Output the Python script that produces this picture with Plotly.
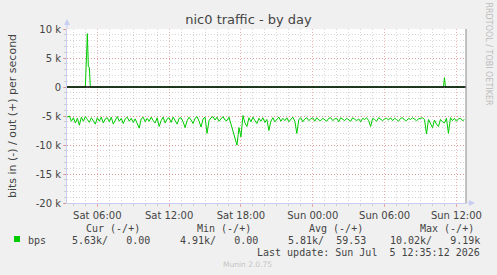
import pandas as pd
import plotly.graph_objects as go

# ---------------- data ----------------
in_start = "2026-07-04 03:30"
in_step = "10min"
bps_in_k = [
    -5.2, -5.0, -5.9, -5.3, -6.2, -5.4, -6.6, -5.2, -5.9, -5.1,
    -5.6, -6.1, -5.3, -5.8, -6.4, -5.3, -5.9, -5.2, -6.2, -5.5,
    -5.3, -6.0, -5.2, -6.4, -5.6, -5.1, -5.9, -5.4, -6.3, -5.5,
    -5.2, -5.9, -5.4, -6.1, -5.5, -6.2, -7.1, -5.5, -5.2, -6.0,
    -5.4, -5.9, -5.2, -5.8, -6.2, -5.3, -6.8, -5.8, -5.2, -6.2,
    -5.5, -5.3, -6.1, -5.2, -5.9, -6.4, -5.4, -5.3, -6.0, -7.0,
    -5.8, -5.2, -5.7, -6.3, -5.4, -5.1, -5.9, -6.9, -5.5, -5.2,
    -8.0, -5.8, -5.3, -5.1, -5.7, -5.2, -5.9, -5.4, -5.1, -5.7,
    -5.8, -5.2, -6.4, -7.4, -9.0, -10.02, -7.0, -8.6, -4.91, -6.2,
    -6.8, -5.3, -6.0, -5.2, -5.8, -6.3, -5.4, -5.9, -5.3, -6.1,
    -5.6, -7.5, -5.9, -5.3, -6.0, -5.5, -5.2, -5.9, -5.4, -5.8,
    -5.3, -6.0, -5.5, -5.2, -5.9, -8.0, -5.6, -5.3, -6.0, -5.5,
    -5.3, -5.8, -5.5, -5.3, -5.9, -5.3, -5.7, -5.8, -5.4, -5.6,
    -5.9, -5.4, -5.3, -5.8, -5.5, -5.4, -6.0, -5.3, -5.6, -5.8,
    -5.4, -5.6, -5.9, -5.3, -5.5, -5.8, -5.5, -6.0, -5.4, -5.6,
    -5.3, -5.8, -6.8, -5.4, -5.6, -5.9, -5.3, -5.5, -5.8, -5.5,
    -5.4, -5.7, -5.3, -5.8, -5.4, -5.6, -5.9, -5.4, -5.3, -5.7,
    -5.8, -5.4, -5.6, -5.3, -5.5, -5.8, -5.5, -5.4, -5.3, -5.6,
    -8.1, -5.6, -6.3, -7.0, -5.7, -6.4, -6.8, -5.6, -6.0, -6.2,
    -5.4, -8.0, -5.3, -5.8, -5.4, -5.9, -5.5, -5.4, -5.8, -5.63,
]
out_times = ["2026-07-04 03:30", "2026-07-04 05:00", "2026-07-04 05:10",
             "2026-07-04 05:15", "2026-07-04 05:20", "2026-07-04 05:25",
             "2026-07-05 10:55", "2026-07-05 11:00", "2026-07-05 11:05",
             "2026-07-05 12:40"]
bps_out = [0, 0, 9190, 3500, 3400, 0, 0, 1600, 0, 0]

y_tickvals = [10000, 5000, 0, -5000, -10000, -15000, -20000]
y_ticktext = ["10 k", "5 k", "0", "-5 k", "-10 k", "-15 k", "-20 k"]

legend_headers = ["Cur (-/+)", "Min (-/+)", "Avg (-/+)", "Max (-/+)"]
legend_values = ["5.63k/   0.00", "4.91k/   0.00", "5.81k/  59.53", "10.02k/   9.19k"]
last_update = "Last update: Sun Jul  5 12:35:12 2026"

# ---------------- geometry ----------------
W, H = 497, 275
L, R, T, B = 67, 466, 29, 203
PW, PH = R - L, B - T


def px(x):
    return (x - L) / PW


def py(y):
    return (B - y) / PH


in_times = pd.date_range(in_start, periods=len(bps_in_k), freq=in_step)
bps_in = [v * 1000 for v in bps_in_k]

GREEN = "#00cc00"
TXT = "#444444"

fig = go.Figure()
fig.add_trace(go.Scatter(x=in_times, y=bps_in, mode="lines",
                         line=dict(color=GREEN, width=1), showlegend=False,
                         hoverinfo="skip"))
fig.add_trace(go.Scatter(x=pd.to_datetime(out_times), y=bps_out, mode="lines",
                         line=dict(color=GREEN, width=1), showlegend=False,
                         hoverinfo="skip"))

MAJ = "rgba(225,80,80,0.45)"
MIN = "rgba(150,150,150,0.38)"

fig.update_layout(
    width=W, height=H,
    margin=dict(l=L, r=W - R, t=T, b=H - B, pad=0),
    paper_bgcolor="#f0f0f0", plot_bgcolor="#ffffff",
    font=dict(family="DejaVu Sans", size=10, color=TXT),
    title=dict(text="nic0 traffic - by day", x=0.5, xanchor="center",
               y=1 - 19.5 / H, yanchor="middle",
               font=dict(family="DejaVu Sans", size=13, color=TXT)),
    showlegend=False,
)

fig.update_xaxes(
    type="date",
    range=["2026-07-04 03:28", "2026-07-05 12:48"],
    tick0="2026-07-04 00:00", dtick=6 * 3600 * 1000,
    tickformat="%a %H:%M",
    ticks="outside", ticklen=3, tickcolor=MAJ, tickwidth=1,
    showgrid=True, gridcolor=MAJ, griddash="1px,2px", gridwidth=1,
    minor=dict(dtick=3600 * 1000, showgrid=True, gridcolor=MIN,
               griddash="1px,2px", ticks="outside", ticklen=2, tickcolor=MIN),
    showline=True, linecolor="#c8cdf2", linewidth=1,
    zeroline=False,
    tickfont=dict(size=10, color=TXT),
    fixedrange=True,
)
fig.update_yaxes(
    range=[-20000, 10000],
    tickvals=y_tickvals, ticktext=y_ticktext,
    ticks="outside", ticklen=3, tickcolor=MAJ,
    showgrid=True, gridcolor=MAJ, griddash="1px,2px", gridwidth=1,
    minor=dict(dtick=1000, tick0=0, showgrid=True, gridcolor=MIN,
               griddash="1px,2px", ticks="outside", ticklen=2, tickcolor=MIN),
    showline=True, linecolor="#c8cdf2", linewidth=1,
    zeroline=False,
    title=dict(text="bits in (-) / out (+) per second", standoff=16,
               font=dict(size=11, color=TXT)),
    tickfont=dict(size=10, color=TXT),
    fixedrange=True,
)

shapes = []
# zero rule drawn above the data, as in rrdtool
shapes.append(dict(type="line", xref="paper", yref="y", layer="above",
                   x0=0, x1=1, y0=0, y1=0,
                   line=dict(color="#000000", width=1.6)))
# right frame line
shapes.append(dict(type="line", xref="paper", yref="paper",
                   x0=px(R), x1=px(R), y0=py(B), y1=py(T),
                   line=dict(color="#8a8a8a", width=1)))
# axis arrows
AX = "#c8cdf2"
shapes.append(dict(type="line", xref="paper", yref="paper",
                   x0=px(L), x1=px(L), y0=py(T), y1=py(24),
                   line=dict(color=AX, width=1)))
shapes.append(dict(type="path", xref="paper", yref="paper",
                   path=f"M {px(L-3)} {py(25)} L {px(L+3)} {py(25)} L {px(L)} {py(19)} Z",
                   fillcolor=AX, line=dict(color=AX, width=0)))
shapes.append(dict(type="line", xref="paper", yref="paper",
                   x0=px(R), x1=px(470), y0=py(B), y1=py(B),
                   line=dict(color=AX, width=1)))
shapes.append(dict(type="path", xref="paper", yref="paper",
                   path=f"M {px(469)} {py(B-3)} L {px(469)} {py(B+3)} L {px(475)} {py(B)} Z",
                   fillcolor=AX, line=dict(color=AX, width=0)))
# legend swatch
shapes.append(dict(type="rect", xref="paper", yref="paper",
                   x0=px(14), x1=px(20), y0=py(242), y1=py(236),
                   fillcolor=GREEN, line=dict(width=0)))
fig.update_layout(shapes=shapes)

NB = "\u00a0"
MONO = dict(family="DejaVu Sans Mono", size=10, color=TXT)
ann = []


def add(text, x, y, xanchor="left", font=MONO, **kw):
    ann.append(dict(text=text.replace(" ", NB), x=px(x), y=py(y), xref="paper",
                    yref="paper", xanchor=xanchor, yanchor="middle",
                    showarrow=False, font=font, **kw))


header_right = [142, 253, 365, 476]
value_right = [152, 260, 368, 482]
for h, xr in zip(legend_headers, header_right):
    add(h, xr, 228, xanchor="right")
for v, xr in zip(legend_values, value_right):
    add(v, xr, 240, xanchor="right")
add("bps", 26, 240)
add(last_update, 482, 252, xanchor="right")
add("Munin 2.0.75", 247.5, 264, xanchor="center",
    font=dict(family="DejaVu Sans", size=7.5, color="#c4c4c4"))
add("RRDTOOL / TOBI OETIKER", 488, 53.5, xanchor="center",
    font=dict(family="DejaVu Sans", size=8, color="#bdbdbd"), textangle=90)
fig.update_layout(annotations=ann)

fig.write_html("out.html")
